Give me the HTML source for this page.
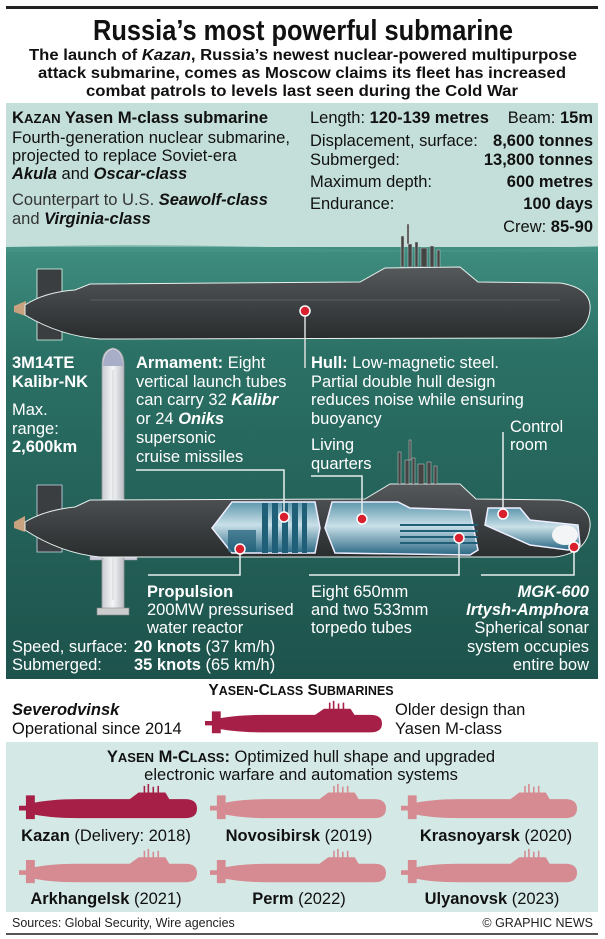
<!DOCTYPE html>
<html><head><meta charset="utf-8"><style>
html,body{margin:0;padding:0;background:#fff}
svg{display:block}
text{font-family:"Liberation Sans",Arial,sans-serif}
</style></head><body>
<svg width="605" height="939" viewBox="0 0 605 939" xmlns="http://www.w3.org/2000/svg">
<defs>
<linearGradient id="wat" x1="0" y1="0" x2="0" y2="1">
<stop offset="0" stop-color="#3f8e80"/><stop offset="0.25" stop-color="#2b7065"/><stop offset="1" stop-color="#1d534c"/>
</linearGradient>
<linearGradient id="hull" x1="0" y1="0" x2="0" y2="1">
<stop offset="0" stop-color="#55595b"/><stop offset="0.5" stop-color="#3e4244"/><stop offset="1" stop-color="#2a2d2e"/>
</linearGradient>
<linearGradient id="comp" x1="0" y1="0" x2="0" y2="1">
<stop offset="0" stop-color="#5d97ad"/><stop offset="0.45" stop-color="#c9e0e8"/><stop offset="1" stop-color="#2a6884"/>
</linearGradient>
<linearGradient id="mis" x1="0" y1="0" x2="1" y2="0">
<stop offset="0" stop-color="#c9ccd2"/><stop offset="0.5" stop-color="#f4f5f7"/><stop offset="1" stop-color="#b9bcc4"/>
</linearGradient>
<symbol id="sub" viewBox="0 0 180 40" preserveAspectRatio="none">
<path d="M0,24 L8,24 L8,29 L0,29Z M7,13 L16,13 L16,38 L7,38Z M10,22 Q30,17 60,17 L112,17 L121,10 L148,10 L152,17 L168,17 Q180,17 180,27 Q180,37 168,37 L60,37 Q30,37 10,32 Z M126,3 h1.6 v8 h-1.6Z M130,1 h1.6 v10 h-1.6Z M135,4 h1.6 v7 h-1.6Z M140,3 h1.6 v8 h-1.6Z"/>
</symbol>
</defs>

<rect x="6" y="6" width="592" height="3" fill="#222"/>
<text x="303" y="40" text-anchor="middle" font-size="29" font-weight="bold" textLength="420" lengthAdjust="spacingAndGlyphs" fill="#111">Russia’s most powerful submarine</text>
<g font-size="16" font-weight="bold" fill="#111" text-anchor="middle">
<text x="303" y="60" textLength="548" lengthAdjust="spacingAndGlyphs">The launch of <tspan font-style="italic">Kazan</tspan>, Russia’s newest nuclear-powered multipurpose</text>
<text x="302" y="78" textLength="528" lengthAdjust="spacingAndGlyphs">attack submarine, comes as Moscow claims its fleet has increased</text>
<text x="302" y="96" textLength="432" lengthAdjust="spacingAndGlyphs">combat patrols to levels last seen during the Cold War</text>
</g>

<rect x="6" y="103" width="592" height="576" fill="#c4dfd9"/>
<rect x="6" y="247" width="592" height="432" fill="url(#wat)"/>
<path d="M6,247 Q150,243 300,248 T598,246 L598,252 L6,252Z" fill="#4a9889" opacity="0.6"/>

<g font-size="16.5" fill="#111">
<text x="12" y="123" font-weight="bold" textLength="256" lengthAdjust="spacingAndGlyphs">K<tspan font-size="13">AZAN</tspan> Yasen M-class submarine</text>
<text x="12" y="143" textLength="278" lengthAdjust="spacingAndGlyphs">Fourth-generation nuclear submarine,</text>
<text x="12" y="161">projected to replace Soviet-era</text>
<text x="12" y="179"><tspan font-weight="bold" font-style="italic">Akula</tspan> and <tspan font-weight="bold" font-style="italic">Oscar-class</tspan></text>
<text x="12" y="205" fill="#333">Counterpart to U.S. <tspan font-weight="bold" font-style="italic" fill="#111">Seawolf-class</tspan></text>
<text x="12" y="224" fill="#333">and <tspan font-weight="bold" font-style="italic" fill="#111">Virginia-class</tspan></text>
</g>
<g font-size="16.5" fill="#111">
<text x="310" y="123">Length: <tspan font-weight="bold">120-139 metres</tspan></text>
<text x="593" y="123" text-anchor="end">Beam: <tspan font-weight="bold">15m</tspan></text>
<text x="310" y="146">Displacement, surface:</text>
<text x="593" y="146" text-anchor="end" font-weight="bold">8,600 tonnes</text>
<text x="310" y="165">Submerged:</text>
<text x="593" y="165" text-anchor="end" font-weight="bold">13,800 tonnes</text>
<text x="310" y="187">Maximum depth:</text>
<text x="593" y="187" text-anchor="end" font-weight="bold">600 metres</text>
<text x="310" y="209">Endurance:</text>
<text x="593" y="209" text-anchor="end" font-weight="bold">100 days</text>
<text x="593" y="232" text-anchor="end">Crew: <tspan font-weight="bold">85-90</tspan></text>
</g>

<g>
<path d="M14,306 L26,301 L26,316 L14,312Z" fill="#c9a27f"/>
<path d="M37,269 L62,269 L62,340 L37,340Z" fill="#3b3e40" stroke="#dfe" stroke-width="0.8"/>
<path d="M25,305 Q45,292 75,290 L90,284 L360,282 L385,268 L460,267 L478,282 L560,283 Q592,288 590,310 Q587,336 555,338 L100,339 Q60,336 25,315 Z" fill="url(#hull)" stroke="#e8f0ee" stroke-width="1"/>
<g fill="#444" stroke="#ccc" stroke-width="0.5">
<rect x="401" y="236" width="3" height="31"/><rect x="408" y="244" width="4" height="23"/><rect x="415" y="242" width="3" height="25"/><rect x="421" y="248" width="6" height="19"/><rect x="430" y="246" width="4" height="21"/><rect x="437" y="250" width="3" height="17"/><rect x="407" y="224" width="2" height="20"/>
</g>
<line x1="90" y1="300" x2="560" y2="300" stroke="#5b5f61" stroke-width="1"/>
</g>
<line x1="305" y1="315" x2="305" y2="368" stroke="#ddd" stroke-width="1.5"/>
<circle cx="305" cy="311" r="5" fill="#d8202f" stroke="#fff" stroke-width="1.5"/>

<g>
<path d="M102,365 Q102,350 113,348 Q124,350 124,365 L124,612 L102,612Z" fill="url(#mis)" stroke="#999" stroke-width="0.8"/>
<path d="M103,366 Q104,351 113,349 Q122,351 123,366Z" fill="#a9aec8"/>
<path d="M90,548 L102,540 L102,560 L90,560Z M124,540 L137,548 L137,560 L124,560Z" fill="#ccd" stroke="#999" stroke-width="0.6"/>
<rect x="97" y="608" width="32" height="7" fill="#ccc" stroke="#888" stroke-width="0.6"/>
<line x1="113" y1="370" x2="113" y2="600" stroke="#bbb" stroke-width="0.6"/>
</g>

<g font-size="16.5" fill="#fff">
<text x="12" y="368" font-weight="bold">3M14TE</text>
<text x="12" y="387" font-weight="bold">Kalibr-NK</text>
<text x="12" y="415">Max.</text>
<text x="12" y="434">range:</text>
<text x="12" y="452" font-weight="bold">2,600km</text>
<text x="136" y="368"><tspan font-weight="bold">Armament:</tspan> Eight</text>
<text x="136" y="387">vertical launch tubes</text>
<text x="136" y="405">can carry 32 <tspan font-weight="bold" font-style="italic">Kalibr</tspan></text>
<text x="136" y="424">or 24 <tspan font-weight="bold" font-style="italic">Oniks</tspan></text>
<text x="136" y="443">supersonic</text>
<text x="136" y="462">cruise missiles</text>
<text x="311" y="368"><tspan font-weight="bold">Hull:</tspan> Low-magnetic steel.</text>
<text x="311" y="387">Partial double hull design</text>
<text x="311" y="405">reduces noise while ensuring</text>
<text x="311" y="424">buoyancy</text>
<text x="311" y="450">Living</text>
<text x="311" y="469">quarters</text>
<text x="510" y="432">Control</text>
<text x="510" y="450">room</text>
<text x="147" y="597" font-weight="bold">Propulsion</text>
<text x="147" y="615">200MW pressurised</text>
<text x="147" y="633">water reactor</text>
<text x="311" y="597">Eight 650mm</text>
<text x="311" y="615">and two 533mm</text>
<text x="311" y="633">torpedo tubes</text>
<text x="589" y="597" text-anchor="end" font-weight="bold" font-style="italic">MGK-600</text>
<text x="589" y="615" text-anchor="end" font-weight="bold" font-style="italic">Irtysh-Amphora</text>
<text x="589" y="633" text-anchor="end">Spherical sonar</text>
<text x="589" y="652" text-anchor="end">system occupies</text>
<text x="589" y="670" text-anchor="end">entire bow</text>
<text x="12" y="652">Speed, surface: <tspan x="134" font-weight="bold">20 knots</tspan> (37 km/h)</text>
<text x="12" y="670">Submerged: <tspan x="134" font-weight="bold">35 knots</tspan> (65 km/h)</text>
</g>

<g>
<path d="M14,522 L25,516 L25,532 L14,528Z" fill="#c9a27f"/>
<path d="M37,485 L62,485 L62,552 L37,552Z" fill="#3b3e40" stroke="#cde" stroke-width="0.8"/>
<path d="M25,522 Q45,510 75,507 L90,500 L365,499 L390,484 L460,484 L476,499 L560,500 Q592,505 590,527 Q587,553 555,557 L100,557 Q60,553 25,530 Z" fill="url(#hull)" stroke="#e8f0ee" stroke-width="1"/>
<g fill="#444" stroke="#ccc" stroke-width="0.5">
<rect x="398" y="452" width="3" height="32"/><rect x="405" y="460" width="4" height="24"/><rect x="412" y="458" width="3" height="26"/><rect x="418" y="464" width="6" height="20"/><rect x="427" y="462" width="4" height="22"/><rect x="434" y="466" width="3" height="18"/><rect x="409" y="440" width="2" height="20"/>
</g>
<path d="M232,502 L315,502 L320,528 L315,553 L232,553 L212,528Z" fill="url(#comp)" stroke="#eef" stroke-width="1.5"/>
<g fill="#1f5f78"><rect x="262" y="503" width="6" height="50"/><rect x="272" y="503" width="6" height="50"/><rect x="282" y="503" width="6" height="50"/><rect x="292" y="503" width="6" height="50"/><rect x="302" y="503" width="5" height="50"/><rect x="228" y="530" width="28" height="22" opacity="0.7"/></g>
<path d="M332,502 L398,502 L410,508 L470,510 L478,550 L470,555 L335,553 L325,528Z" fill="url(#comp)" stroke="#eef" stroke-width="1.5"/>
<g stroke="#1f5f78" stroke-width="2"><line x1="400" y1="525" x2="478" y2="525"/><line x1="400" y1="531" x2="478" y2="531"/><line x1="400" y1="537" x2="478" y2="537"/><line x1="400" y1="543" x2="478" y2="543"/></g>
<path d="M488,508 L520,508 L530,520 L578,525 L580,545 L568,550 L530,545 L485,525Z" fill="url(#comp)" stroke="#eef" stroke-width="1.5"/>
<ellipse cx="565" cy="535" rx="13" ry="10" fill="#f2f4f5"/>
</g>
<g stroke="#e6eeee" stroke-width="1.5" fill="none">
<polyline points="136,470 284,470 284,512"/>
<polyline points="311,476 362,476 362,514"/>
<polyline points="240,554 240,575 148,575"/>
<polyline points="459,543 459,575 309,575"/>
<polyline points="503,510 503,432"/>
<polyline points="574,552 574,575 481,575"/>
</g>
<g fill="#d8202f" stroke="#fff" stroke-width="1.5">
<circle cx="284" cy="517" r="5"/><circle cx="240" cy="549" r="5"/><circle cx="362" cy="519" r="5"/><circle cx="459" cy="538" r="5"/><circle cx="503" cy="514" r="5"/><circle cx="574" cy="547" r="5"/>
</g>

<text x="301" y="695" text-anchor="middle" font-size="15.5" font-weight="bold" fill="#111">Y<tspan font-size="12.5">ASEN</tspan>-C<tspan font-size="12.5">LASS</tspan> S<tspan font-size="12.5">UBMARINES</tspan></text>
<g font-size="16.5" fill="#111">
<text x="12" y="715" font-weight="bold" font-style="italic">Severodvinsk</text>
<text x="12" y="734">Operational since 2014</text>
<text x="395" y="715">Older design than</text>
<text x="395" y="734">Yasen M-class</text>
</g>
<use href="#sub" x="205" y="700" width="177" height="35" fill="#a51f47"/>

<rect x="6" y="742" width="592" height="170" fill="#d4e9e6"/>
<g font-size="16.5" fill="#111" text-anchor="middle">
<text x="301" y="762"><tspan font-weight="bold">Y<tspan font-size="13">ASEN</tspan> M-C<tspan font-size="13">LASS</tspan>:</tspan> Optimized hull shape and upgraded</text>
<text x="301" y="780">electronic warfare and automation systems</text>
</g>
<use href="#sub" x="19" y="783" width="178" height="38" fill="#a51f47"/>
<use href="#sub" x="210" y="783" width="176" height="38" fill="#d68a91"/>
<use href="#sub" x="401" y="783" width="176" height="38" fill="#d68a91"/>
<use href="#sub" x="19" y="848" width="178" height="37" fill="#d68a91"/>
<use href="#sub" x="210" y="848" width="176" height="37" fill="#d68a91"/>
<use href="#sub" x="401" y="848" width="176" height="37" fill="#d68a91"/>
<g font-size="16.5" fill="#111" text-anchor="middle">
<text x="106" y="841"><tspan font-weight="bold">Kazan</tspan> (Delivery: 2018)</text>
<text x="299" y="841"><tspan font-weight="bold">Novosibirsk</tspan> (2019)</text>
<text x="496" y="841"><tspan font-weight="bold">Krasnoyarsk</tspan> (2020)</text>
<text x="106" y="904"><tspan font-weight="bold">Arkhangelsk</tspan> (2021)</text>
<text x="299" y="904"><tspan font-weight="bold">Perm</tspan> (2022)</text>
<text x="492" y="904"><tspan font-weight="bold">Ulyanovsk</tspan> (2023)</text>
</g>
<text x="12" y="927" font-size="12.5" fill="#222">Sources: Global Security, Wire agencies</text>
<text x="593" y="927" font-size="12.5" fill="#222" text-anchor="end">© GRAPHIC NEWS</text>
<rect x="6" y="933" width="592" height="2" fill="#555"/>
</svg>
</body></html>
